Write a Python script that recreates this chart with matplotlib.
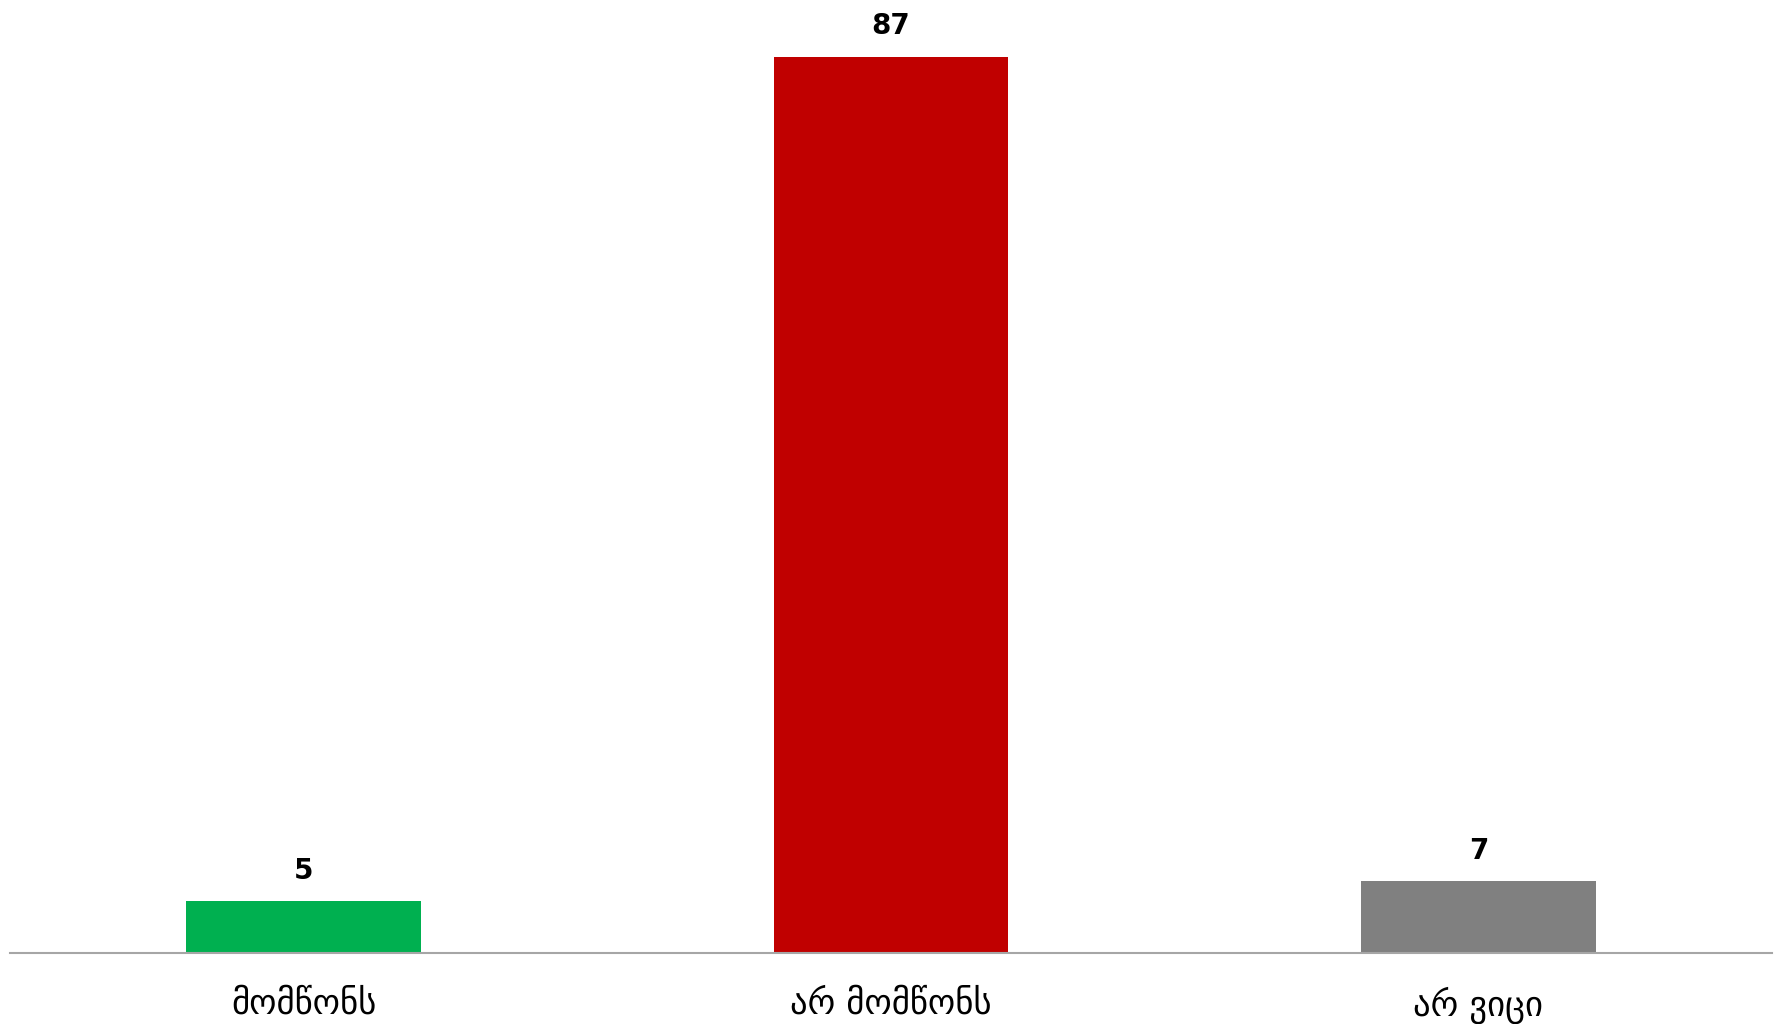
import matplotlib.pyplot as plt

categories = ["მომწონს", "არ მომწონს", "არ ვიცი"]
values = [5, 87, 7]
colors = ["#00B050", "#C00000", "#808080"]

fig = plt.figure(figsize=(17.83, 10.24), dpi=100)
ax = fig.add_axes([10 / 1783, 71 / 1024, 1762 / 1783, 953 / 1024])

x = range(len(categories))
bars = ax.bar(x, values, width=0.4, color=colors)

for b, v in zip(bars, values):
    ax.annotate(str(v), (b.get_x() + b.get_width() / 2, v),
                xytext=(0, 16), textcoords="offset points",
                ha="center", va="baseline", fontsize=20, fontweight="bold")

ax.set_xlim(-0.5, 2.5)
ax.set_ylim(0, 92.5)
ax.set_xticks(list(x))
ax.set_xticklabels(categories, fontsize=25, family=["DejaVu Sans"])
ax.tick_params(axis="x", length=0, pad=24)
ax.set_yticks([])
for s in ["top", "right", "left"]:
    ax.spines[s].set_visible(False)
ax.spines["bottom"].set_color("#A6A6A6")
ax.spines["bottom"].set_linewidth(1.5)

fig.savefig("out.png", dpi=100)
plt.close()
